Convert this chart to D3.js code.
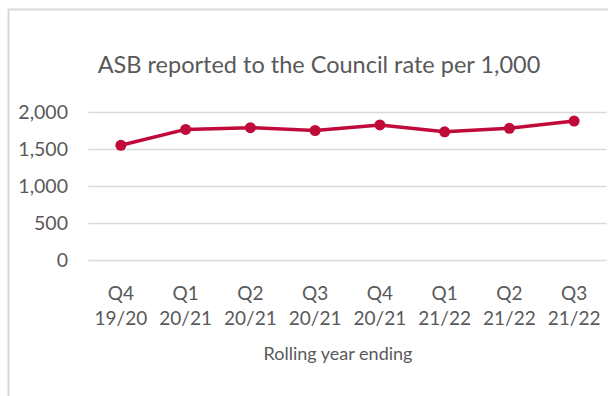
<!DOCTYPE html>
<html>
<head>
<meta charset="utf-8">
<script src="https://cdn.jsdelivr.net/npm/d3@7"></script>
<style>
  html, body { margin: 0; padding: 0; background: #fff; }
  svg { display: block; }
  text { font-family: Lato, "Open Sans", sans-serif; fill: #595959; }
</style>
</head>
<body>
<svg id="chart" width="609" height="396"></svg>
<script>
const title = "ASB reported to the Council rate per 1,000";
const quarters = ["Q4", "Q1", "Q2", "Q3", "Q4", "Q1", "Q2", "Q3"];
const years = ["19/20", "20/21", "20/21", "20/21", "20/21", "21/22", "21/22", "21/22"];
const rates = [1550, 1765, 1788, 1750, 1825, 1732, 1780, 1878];
const yTicks = [0, 500, 1000, 1500, 2000];
const xAxisTitle = "Rolling year ending";

const svg = d3.select("#chart");
const W = 609, H = 396;

// chart frame (partially cropped)
svg.append("path")
  .attr("d", `M8.5,${H} L8.5,9.5 L608,9.5`)
  .attr("fill", "none").attr("stroke", "#d9d9d9").attr("stroke-width", 2);

const cats = quarters.map((q, i) => i);
const x = d3.scaleBand().domain(cats).range([88.5, 606.5]);
const y = d3.scaleLinear().domain([0, 2000]).range([260, 112]);

// gridlines
svg.append("g").selectAll("line").data(yTicks).join("line")
  .attr("x1", x.range()[0]).attr("x2", x.range()[1])
  .attr("y1", d => Math.round(y(d)) + 0.5).attr("y2", d => Math.round(y(d)) + 0.5)
  .attr("stroke", "#d9d9d9").attr("stroke-width", 1.5);

// y axis labels
const yAxis = d3.axisLeft(y).tickValues(yTicks).tickSize(0).tickPadding(0)
  .tickFormat(d3.format(","));
const gy = svg.append("g").attr("transform", "translate(68,0)").call(yAxis);
gy.select(".domain").remove();
gy.selectAll("text").attr("fill", "#595959").style("font-size", "19.5px")
  .style("font-family", "Lato, 'Open Sans', sans-serif");

// x axis labels
const xAxis = d3.axisBottom(x).tickSize(0).tickFormat(() => "");
const gx = svg.append("g").attr("transform", "translate(0,260)").call(xAxis);
gx.select(".domain").remove();
gx.selectAll(".tick").each(function(d) {
  const t = d3.select(this);
  t.select("text").remove();
  t.append("text").attr("text-anchor", "middle").attr("y", 39.5)
    .style("font-size", "19px").text(quarters[d]);
  t.append("text").attr("text-anchor", "middle").attr("y", 64.5)
    .style("font-size", "19px").text(years[d]);
});

// axis title
svg.append("text").attr("x", 338).attr("y", 360).attr("text-anchor", "middle")
  .style("font-size", "18px").text(xAxisTitle);

// chart title
svg.append("text").attr("x", 319).attr("y", 73).attr("text-anchor", "middle")
  .style("font-size", "23.5px").text(title);

// line
const cx = i => x(i) + x.bandwidth() / 2;
svg.append("path").datum(rates)
  .attr("d", d3.line().x((d, i) => cx(i)).y(d => y(d)))
  .attr("fill", "none").attr("stroke", "#c00b3a").attr("stroke-width", 3.5)
  .attr("stroke-linejoin", "round");
svg.append("g").selectAll("circle").data(rates).join("circle")
  .attr("cx", (d, i) => cx(i)).attr("cy", d => y(d)).attr("r", 5.5)
  .attr("fill", "#c00b3a");
</script>
</body>
</html>
